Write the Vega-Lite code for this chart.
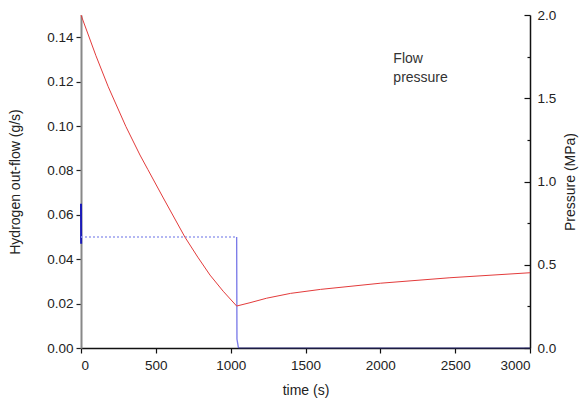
{
  "$schema": "https://vega.github.io/schema/vega-lite/v6.json",
  "width": 449,
  "height": 333,
  "autosize": {"type": "none"},
  "padding": {"left": 81, "top": 15, "right": 50, "bottom": 55},
  "background": "white",
  "config": {
    "view": {"stroke": null},
    "font": "Liberation Sans",
    "axis": {"labelFont": "Liberation Sans", "titleFont": "Liberation Sans", "labelFontSize": 13.5, "titleFontSize": 14, "titleFontWeight": "normal", "labelColor": "#222", "titleColor": "#222", "grid": false}
  },
  "layer": [
    {
      "layer": [
        {
          "data": {"values": [
            {"t": 0, "flow": 0.065, "seg": "spike", "ord": 1},
            {"t": 1, "flow": 0.047, "seg": "spike", "ord": 2},
            {"t": 0, "flow": 0.05, "seg": "plateau", "ord": 1},
            {"t": 1040, "flow": 0.05, "seg": "plateau", "ord": 2},
            {"t": 1040, "flow": 0.05, "seg": "drop", "ord": 1},
            {"t": 1042, "flow": 0.004, "seg": "drop", "ord": 2},
            {"t": 1052, "flow": 0.0, "seg": "drop", "ord": 3},
            {"t": 1052, "flow": 0.0, "seg": "zero", "ord": 1},
            {"t": 3000, "flow": 0.0, "seg": "zero", "ord": 2}
          ]},
          "mark": {"type": "line", "clip": false},
          "encoding": {
            "x": {"field": "t", "type": "quantitative", "scale": {"domain": [0, 3000], "nice": false},
              "axis": {"orient": "bottom", "title": "time (s)", "values": [0,250,500,750,1000,1250,1500,1750,2000,2250,2500,2750,3000],
                "labelExpr": "datum.value % 500 == 0 ? format(datum.value, 'd') : ''",
                "tickSize": {"condition": {"test": "datum.value % 500 == 0", "value": 5}, "value": 3},
                "domainColor": "#111", "domainWidth": 1.5, "tickColor": "#111", "tickWidth": 1.2, "labelPadding": 5, "titlePadding": 12}},
            "y": {"field": "flow", "type": "quantitative", "scale": {"domain": [0, 0.15], "nice": false},
              "axis": {"orient": "left", "title": "Hydrogen out-flow (g/s)", "values": [0,0.01,0.02,0.03,0.04,0.05,0.06,0.07,0.08,0.09,0.1,0.11,0.12,0.13,0.14,0.15],
                "labelExpr": "round(datum.value*100) % 2 == 0 ? format(datum.value, '.2f') : ''",
                "tickSize": {"condition": {"test": "round(datum.value*100) % 2 == 0", "value": 5}, "value": 3},
                "domainColor": "#888", "domainWidth": 2, "tickColor": "#222", "tickWidth": 1.2, "labelPadding": 3, "titlePadding": 24}},
            "color": {"field": "seg", "type": "nominal", "scale": {"domain": ["spike", "plateau", "drop", "zero"], "range": ["#1a1ab8", "#9aa0ee", "#7a7ae8", "#2b2b80"]}, "legend": null},
            "strokeDash": {"field": "seg", "type": "nominal", "scale": {"domain": ["spike", "plateau", "drop", "zero"], "range": [[1, 0], [2, 2], [1, 0], [1, 0]]}, "legend": null},
            "strokeWidth": {"field": "seg", "type": "nominal", "scale": {"domain": ["spike", "plateau", "drop", "zero"], "range": [2, 1, 1, 2]}, "legend": null},
            "order": {"field": "ord", "type": "quantitative"}
          }
        },
        {
          "data": {"values": [
            {"t": 2087, "flow": 0.1284, "label": "Flow"},
            {"t": 2087, "flow": 0.1198, "label": "pressure"}
          ]},
          "mark": {"type": "text", "align": "left", "baseline": "alphabetic", "fontSize": 14, "font": "Liberation Sans", "color": "#333"},
          "encoding": {
            "x": {"field": "t", "type": "quantitative"},
            "y": {"field": "flow", "type": "quantitative"},
            "text": {"field": "label"}
          }
        }
      ]
    },
    {
      "data": {"values": [
        {"t": 0, "p": 2.0},
        {"t": 100, "p": 1.755},
        {"t": 182, "p": 1.569},
        {"t": 300, "p": 1.33},
        {"t": 394, "p": 1.159},
        {"t": 446, "p": 1.073},
        {"t": 550, "p": 0.901},
        {"t": 695, "p": 0.665},
        {"t": 780, "p": 0.546},
        {"t": 862, "p": 0.438},
        {"t": 950, "p": 0.341},
        {"t": 1040, "p": 0.252},
        {"t": 1129, "p": 0.272},
        {"t": 1240, "p": 0.299},
        {"t": 1400, "p": 0.328},
        {"t": 1600, "p": 0.352},
        {"t": 2000, "p": 0.389},
        {"t": 2465, "p": 0.422},
        {"t": 3000, "p": 0.452}
      ]},
      "mark": {"type": "line", "color": "#e33b3b", "strokeWidth": 1, "clip": false},
      "encoding": {
        "x": {"field": "t", "type": "quantitative"},
        "y": {"field": "p", "type": "quantitative", "scale": {"domain": [0, 2], "nice": false},
          "axis": {"orient": "right", "title": "Pressure (MPa)", "titleAngle": -90, "titleBaseline": "top", "values": [0,0.25,0.5,0.75,1,1.25,1.5,1.75,2],
            "labelExpr": "round(datum.value*4) % 2 == 0 ? format(datum.value, '.1f') : ''",
            "tickSize": {"condition": {"test": "round(datum.value*4) % 2 == 0", "value": -6}, "value": -3},
            "domainColor": "#111", "domainWidth": 1.5, "tickColor": "#111", "tickWidth": 1.2, "labelPadding": 13, "titlePadding": 8}}
      }
    }
  ],
  "resolve": {"scale": {"y": "independent"}}
}
